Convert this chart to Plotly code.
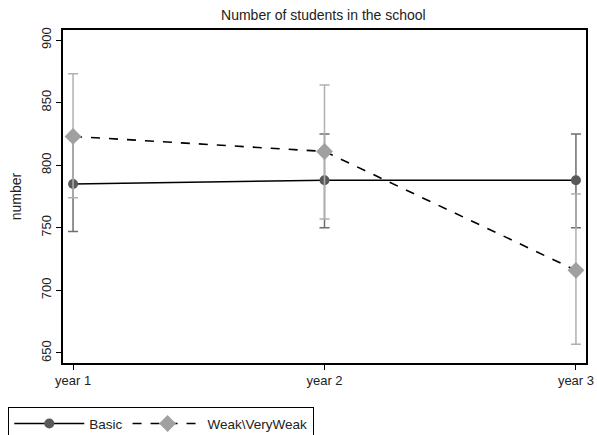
import plotly.graph_objects as go

years = [1, 2, 3]
year_labels = ["year 1", "year 2", "year 3"]

basic_mean = [785, 788, 788]
basic_upper = [824, 825, 825]
basic_lower = [747, 750, 750]

weak_mean = [823, 811, 716]
weak_upper = [873, 864, 777]
weak_lower = [774, 757, 657]

fig = go.Figure()

fig.add_trace(go.Scatter(
    x=years, y=basic_mean, name="Basic", mode="lines+markers",
    line=dict(color="black", width=1.6),
    marker=dict(symbol="circle", size=10, color="#595959"),
    error_y=dict(type="data", symmetric=False,
                 array=[u - m for u, m in zip(basic_upper, basic_mean)],
                 arrayminus=[m - l for m, l in zip(basic_mean, basic_lower)],
                 color="#6e6e6e", thickness=1.5, width=5),
))

fig.add_trace(go.Scatter(
    x=years, y=weak_mean, name="Weak\\VeryWeak", mode="lines+markers",
    line=dict(color="black", width=1.6, dash="dash"),
    marker=dict(symbol="diamond", size=13, color="#a0a0a0"),
    error_y=dict(type="data", symmetric=False,
                 array=[u - m for u, m in zip(weak_upper, weak_mean)],
                 arrayminus=[m - l for m, l in zip(weak_mean, weak_lower)],
                 color="#b0b0b0", thickness=1.5, width=5),
))

fig.update_layout(
    width=597, height=435,
    margin=dict(l=63, r=11, t=30, b=72, autoexpand=False),
    paper_bgcolor="white", plot_bgcolor="white",
    font=dict(family="Liberation Sans, Arial, sans-serif", size=13, color="#222"),
    title=dict(text="Number of students in the school", x=0.5417, xanchor="center",
               y=0.966, yanchor="middle", font=dict(size=14, color="#222")),
    showlegend=True,
    legend=dict(orientation="h", x=-0.105, xanchor="left", y=-0.132, yanchor="top",
                bordercolor="black", borderwidth=1.2, font=dict(size=13.5),
                itemwidth=70, tracegroupgap=0),
    xaxis=dict(range=[0.96, 3.04], tickmode="array", tickvals=years, ticktext=year_labels,
               automargin=False,
               showgrid=False, zeroline=False, showline=True, linecolor="black", linewidth=1.5,
               mirror=True, ticks="outside", ticklen=5, tickcolor="black"),
    yaxis=dict(range=[642, 908], tickvals=[650, 700, 750, 800, 850, 900], tickangle=-90,
               automargin=False,
               title=dict(text="number", standoff=14, font=dict(size=14)),
               showgrid=False, zeroline=False, showline=True, linecolor="black", linewidth=1.5,
               mirror=True, ticks="outside", ticklen=5, tickcolor="black"),
)

fig.write_html(
    "out.html",
    config={"displayModeBar": False},
    post_script="document.body.style.margin='0';document.body.style.overflow='hidden';",
)
